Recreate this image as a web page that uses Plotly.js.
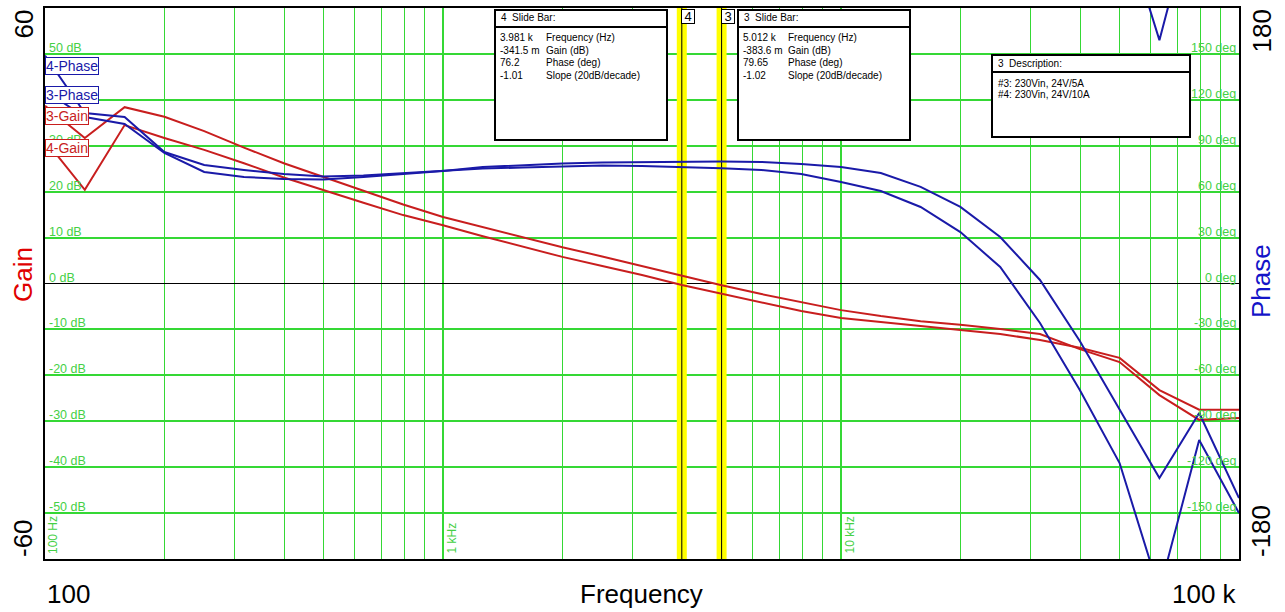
<!DOCTYPE html>
<html><head><meta charset="utf-8">
<script src="https://cdn.plot.ly/plotly-3.0.1.min.js"></script>
<style>html,body{margin:0;padding:0;background:#fff;}#chart{width:1285px;height:612px;}</style>
</head><body><div id="chart"></div>
<script>
// ---- data (10 points per decade) ----
const freqs = [100,125.9,158.5,199.5,251.2,316.2,398.1,501.2,631,794.3,1000,1259,1585,1995,2512,3162,3981,5012,6310,7943,10000,12590,15850,19950,25120,31620,39810,50120,63100,79430,100000];
const gain3 = [38.7,31.7,38.4,36.3,33.2,29.6,26.2,23.2,20.1,17.2,14.5,12.3,10.1,7.9,5.9,3.8,1.7,-0.38,-2.3,-4.0,-5.8,-7.1,-8.2,-9.0,-9.9,-11.0,-14.3,-17.1,-24.3,-29.7,-29.3];
const gain4 = [31.2,20.4,34.5,31.7,29.1,26.2,23.1,20.3,17.6,14.9,12.7,10.3,8.0,5.8,3.8,1.85,-0.34,-2.2,-4.2,-6.0,-7.5,-8.4,-9.3,-10.1,-11.0,-12.3,-14.0,-16.2,-23.2,-27.5,-27.5];
const phase3 = [126,108.8,104.2,85.3,72.9,69.6,68.3,68.0,69.6,71.5,73.5,76.1,77.4,78.4,79.1,79.4,79.7,79.65,79.4,78.1,76.1,72.2,63.1,50.0,30.4,2.3,-37.6,-82.7,-127.1,-84.6,-140.2];
const phase4 = [149,111.4,108.8,85.9,77.4,74.2,71.5,69.9,70.6,72.2,73.8,75.1,75.8,76.4,77.1,76.8,76.2,75.3,74.2,71.6,66.3,60.4,50.0,33.6,10.8,-25.8,-69.6,-117.3,-201,-102.3,-150];

const cursorFreqs = [3981, 5012];
const cursorTags = ['4', '3'];
const slideLabels = ['Frequency (Hz)','Gain (dB)','Phase (deg)','Slope (20dB/decade)'];
const slide4Values = ['3.981 k','-341.5 m','76.2','-1.01'];
const slide3Values = ['5.012 k','-383.6 m','79.65','-1.02'];
const descLines = ['#3: 230Vin, 24V/5A','#4: 230Vin, 24V/10A'];

const gainTicks = [50,40,30,20,10,0,-10,-20,-30,-40,-50];
const phaseTicks = [150,120,90,60,30,0,-30,-60,-90,-120,-150];
const decadeFreqs = [100,1000,10000,100000];
const decadeLabels = ['100 Hz','1 kHz','10 kHz'];
const minorFreqs = [200,300,400,500,600,700,800,900,2000,3000,4000,5000,6000,7000,8000,9000,20000,30000,40000,50000,60000,70000,80000,90000];

// ---- style ----
const FONT = 'Liberation Sans, Arial, sans-serif';
const GREEN = '#35d835';
const GTEXT = '#45d045';
const RED = '#c81e1e';
const BLUE = '#1a1aa8';
const L = 45, R = 1239, T = 8, B = 559;
const px = x => (x - L) / (R - L);
const py = y => (B - y) / (B - T);

const traces = [];
cursorFreqs.forEach(f => {
  traces.push({x:[f,f], y:[-60,60], mode:'lines', line:{color:'#ffff00', width:10}, hoverinfo:'skip', showlegend:false});
  traces.push({x:[f,f], y:[-60,60], mode:'lines', line:{color:'#000', width:1}, hoverinfo:'skip', showlegend:false});
});
traces.push({name:'3-Gain', x:freqs, y:gain3, mode:'lines', line:{color:RED, width:2}});
traces.push({name:'4-Gain', x:freqs, y:gain4, mode:'lines', line:{color:RED, width:2}});
traces.push({name:'3-Phase', x:freqs, y:phase3, yaxis:'y2', mode:'lines', line:{color:BLUE, width:2}});
traces.push({name:'4-Phase', x:freqs, y:phase4, yaxis:'y2', mode:'lines', line:{color:BLUE, width:2}});
// wrapped copy of 4-Phase (phase displayed modulo 360)
traces.push({name:'4-Phase wrap', x:freqs, y:phase4.map(v => v + 360), yaxis:'y2', mode:'lines', line:{color:BLUE, width:2}, showlegend:false});

const ann = [];
gainTicks.forEach(g => ann.push({xref:'paper', x:px(47), xanchor:'left', yref:'y', y:g, yanchor:'bottom', yshift:-3,
  text:g + ' dB', showarrow:false, font:{family:FONT, size:12.5, color:GTEXT}}));
phaseTicks.forEach(p => ann.push({xref:'paper', x:1, xanchor:'right', xshift:-1, yref:'y2', y:p, yanchor:'bottom', yshift:-3,
  text:p + ' deg', showarrow:false, font:{family:FONT, size:12.5, color:GTEXT}}));
decadeLabels.forEach((t, i) => ann.push({xref:'x', x:Math.log10(decadeFreqs[i]), xanchor:'center', xshift:8, yref:'paper', y:0, yanchor:'bottom', yshift:3,
  text:t, textangle:-90, showarrow:false, font:{family:FONT, size:12, color:GTEXT}}));

// curve name tags
const tags = [['4-Phase',57,BLUE],['3-Phase',86,BLUE],['3-Gain',107,RED],['4-Gain',139,RED]];
tags.forEach(t => ann.push({xref:'paper', x:0, xanchor:'left', xshift:0, yref:'paper', y:py(t[1]), yanchor:'top',
  text:t[0], showarrow:false, bgcolor:'#fff', bordercolor:t[2], borderwidth:1, borderpad:0, font:{family:FONT, size:14, color:t[2]}}));

// cursor tags
cursorFreqs.forEach((f, i) => ann.push({xref:'x', x:Math.log10(f), xanchor:'left', xshift:-1, yref:'paper', y:1, yanchor:'top', yshift:-1,
  text:cursorTags[i], width:12, height:13, showarrow:false, bgcolor:'#fff', bordercolor:'#000', borderwidth:1, borderpad:0, font:{family:FONT, size:13, color:'#000'}}));

// axis end labels
const big = {family:FONT, size:26, color:'#000'};
ann.push({xref:'paper', x:0, xshift:-22, xanchor:'center', yref:'paper', y:1, yanchor:'top', text:'60', textangle:-90, showarrow:false, font:big});
ann.push({xref:'paper', x:0, xshift:-22, xanchor:'center', yref:'paper', y:0, yanchor:'bottom', text:'-60', textangle:-90, showarrow:false, font:big});
ann.push({xref:'paper', x:1, xshift:22, xanchor:'center', yref:'paper', y:1, yanchor:'top', text:'180', textangle:-90, showarrow:false, font:big});
ann.push({xref:'paper', x:1, xshift:22, xanchor:'center', yref:'paper', y:0, yanchor:'bottom', text:'-180', textangle:-90, showarrow:false, font:big});
ann.push({xref:'paper', x:0, xshift:-22, xanchor:'center', yref:'paper', y:py(275), yanchor:'middle', text:'Gain', textangle:-90, showarrow:false, font:{family:FONT, size:26, color:'#e00000'}});
ann.push({xref:'paper', x:1, xshift:22, xanchor:'center', yref:'paper', y:py(281), yanchor:'middle', text:'Phase', textangle:-90, showarrow:false, font:{family:FONT, size:26, color:'#1414c8'}});
ann.push({xref:'paper', x:0, xanchor:'left', xshift:0, yref:'paper', y:py(594), yanchor:'middle', text:'100', showarrow:false, font:big});
ann.push({xref:'paper', x:px(641), xanchor:'center', yref:'paper', y:py(594), yanchor:'middle', text:'Frequency', showarrow:false, font:big});
ann.push({xref:'paper', x:1, xanchor:'right', xshift:0, yref:'paper', y:py(594), yanchor:'middle', text:'100 k', showarrow:false, font:big});

// info boxes
const shapes = [];
function box(x0, x1, y0, y1, ysep) {
  shapes.push({type:'rect', xref:'paper', yref:'paper', x0:px(x0), x1:px(x1), y0:py(y1), y1:py(y0), fillcolor:'#fff', line:{color:'#000', width:2}, layer:'above'});
  shapes.push({type:'line', xref:'paper', yref:'paper', x0:px(x0), x1:px(x1), y0:py(ysep), y1:py(ysep), line:{color:'#000', width:2}, layer:'above'});
}
const small = {family:FONT, size:10, color:'#000'};
function txt(x, y, t) { ann.push({xref:'paper', x:px(x), xanchor:'left', yref:'paper', y:py(y), yanchor:'middle', text:t, showarrow:false, font:small}); }
box(495, 667, 10, 140, 27);
box(738, 910, 10, 140, 27);
box(992, 1190, 55, 137, 72);
txt(499, 18, '4  Slide Bar:');
txt(742, 18, '3  Slide Bar:');
const rowY = [38, 50.5, 63, 75.5];
slideLabels.forEach((l, i) => {
  txt(498, rowY[i], slide4Values[i]); txt(544, rowY[i], l);
  txt(741, rowY[i], slide3Values[i]); txt(786, rowY[i], l);
});
txt(996, 63.5, '3  Description:');
descLines.forEach((d, i) => txt(996, 83 + i * 11.5, d));

const layout = {
  width:1285, height:612,
  margin:{l:L, r:1285 - R, t:T, b:612 - B, pad:0},
  paper_bgcolor:'#fff', plot_bgcolor:'#fff',
  showlegend:false,
  font:{family:FONT},
  xaxis:{type:'log', range:[2,5], tickvals:decadeFreqs, showticklabels:false, ticks:'',
    showgrid:true, gridcolor:GREEN, gridwidth:2,
    minor:{tickvals:minorFreqs, showgrid:true, gridcolor:GREEN, gridwidth:1, ticks:''},
    showline:true, mirror:true, linecolor:'#000', linewidth:2, zeroline:false},
  yaxis:{range:[-60,60], tick0:0, dtick:10, showticklabels:false, ticks:'',
    showgrid:true, gridcolor:GREEN, gridwidth:2,
    zeroline:true, zerolinecolor:'#000', zerolinewidth:1.5,
    showline:true, mirror:true, linecolor:'#000', linewidth:2},
  yaxis2:{range:[-180,180], overlaying:'y', side:'right', showgrid:false, zeroline:false, showticklabels:false, ticks:''},
  annotations:ann,
  shapes:shapes
};
Plotly.newPlot('chart', traces, layout, {displayModeBar:false, staticPlot:true});
</script>
</body></html>
